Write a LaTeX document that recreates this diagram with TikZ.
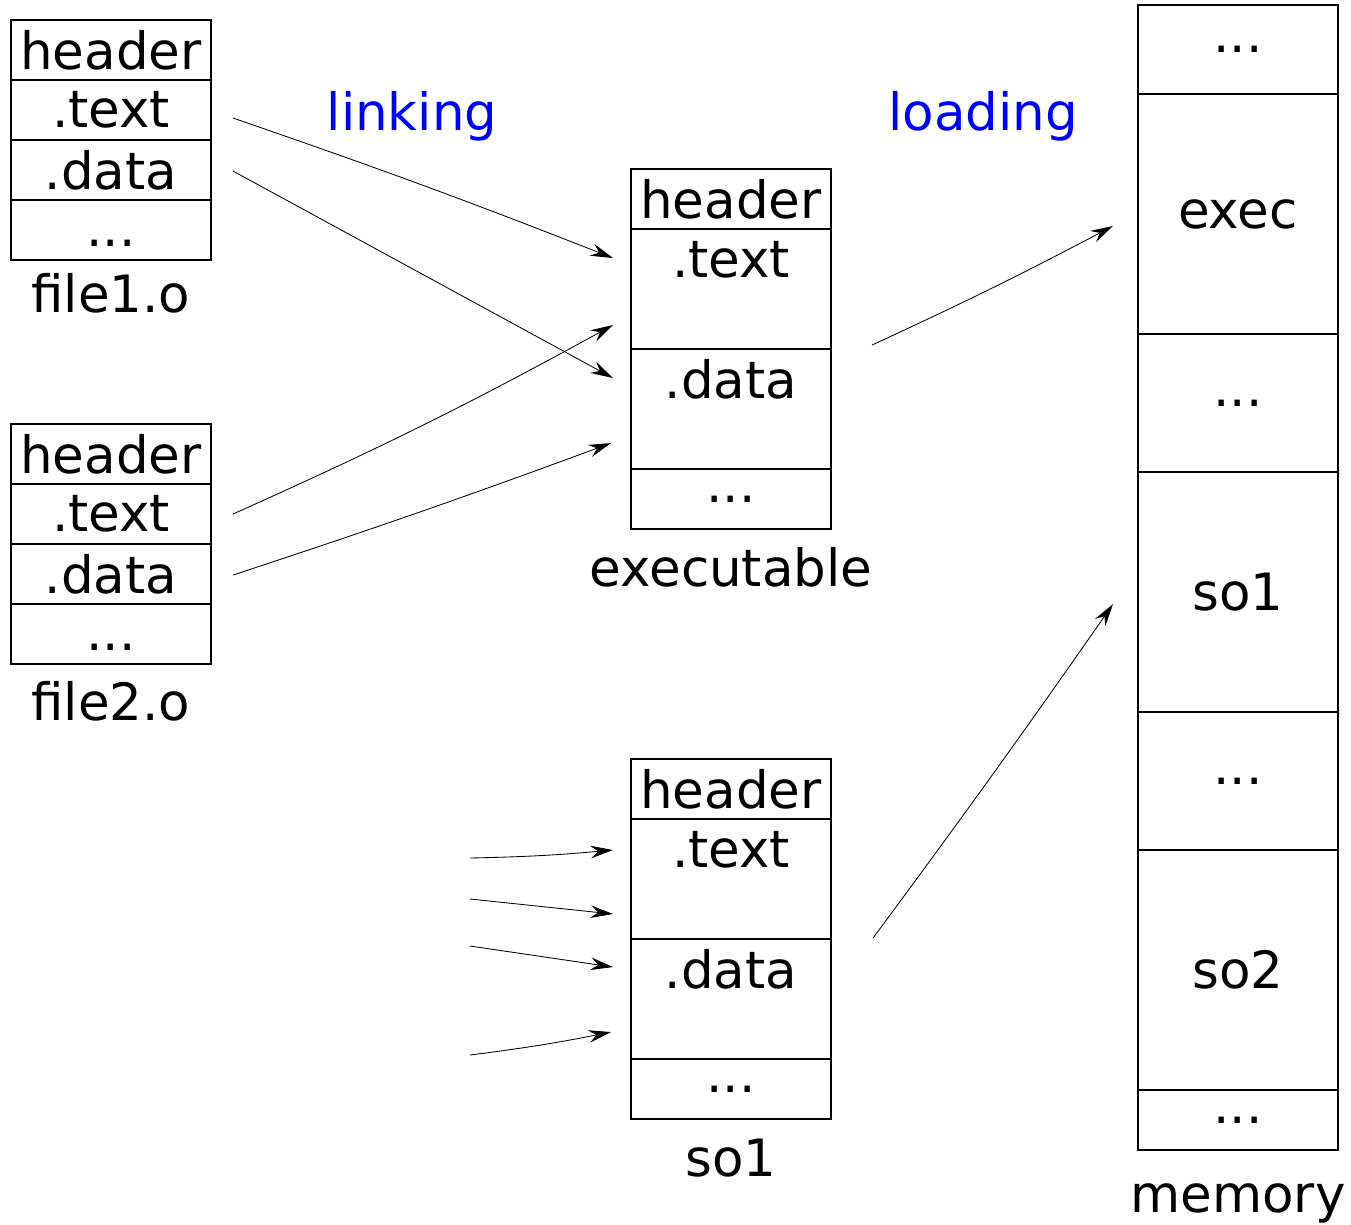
\documentclass[tikz,border=0pt]{standalone}
\usepackage{fontspec}
\setmainfont{DejaVu Sans}
\usetikzlibrary{arrows.meta,positioning}

\begin{document}
\begin{tikzpicture}[x=0.025cm, y=0.025cm,
	every node/.style={font=\fontsize{36.6}{44}\selectfont},
	cell/.style={draw, line width=1.2pt, minimum width=5cm, minimum height=1.5cm, inner sep=0pt, outer sep=0pt, anchor=north},
	tall/.style={cell, minimum height=3cm},
	lowdots/.style={text height=27.8pt, text depth=4pt},
	toptext/.style={label={[anchor=north, inner sep=0pt, minimum height=1.5cm]north:#1}},
	caption/.style={inner sep=0pt, text height=27.8pt, text depth=0pt},
	step label/.style={caption, text=blue},
	link/.style={-{Stealth[length=16pt, width=9pt, inset=5.5pt]}, line width=0.6pt}]
	\useasboundingbox (0,0) rectangle (1351,-1225);

	% object files
	\node[cell] (f1head) at (111,-20) {header};
	\node[cell, below=0pt of f1head] (f1text) {.text};
	\node[cell, below=0pt of f1text] (f1data) {.data};
	\node[cell, lowdots, below=0pt of f1data] (f1dots) {...};
	\node[caption, below=0.33cm of f1dots] (f1name) {file1.o};

	\node[cell] (f2head) at (111,-424) {header};
	\node[cell, below=0pt of f2head] (f2text) {.text};
	\node[cell, below=0pt of f2text] (f2data) {.data};
	\node[cell, lowdots, below=0pt of f2data] (f2dots) {...};
	\node[caption, below=0.43cm of f2dots] (f2name) {file2.o};

	% linked executable
	\node[cell] (exehead) at (731,-169) {header};
	\node[tall, toptext=.text, below=0pt of exehead] (exetext) {};
	\node[tall, toptext=.data, below=0pt of exetext] (exedata) {};
	\node[cell, below=0pt of exedata] (exedots) {...};
	\node[caption, below=0.45cm of exedots] (exename) {executable};

	% shared object
	\node[cell] (sohead) at (731,-759) {header};
	\node[tall, toptext=.text, below=0pt of sohead] (sotext) {};
	\node[tall, toptext=.data, below=0pt of sotext] (sodata) {};
	\node[cell, below=0pt of sodata] (sodots) {...};
	\node[caption, below=0.45cm of sodots] (soname) {so1};

	% address space
	\node[cell, minimum height=2.225cm] (memtop) at (1238,-5) {...};
	\node[cell, minimum height=6cm, below=0pt of memtop] (memexec) {exec};
	\node[cell, minimum height=3.45cm, below=0pt of memexec] (memgapa) {...};
	\node[cell, minimum height=6cm, below=0pt of memgapa] (memsoone) {so1};
	\node[cell, minimum height=3.45cm, below=0pt of memsoone] (memgapb) {...};
	\node[cell, minimum height=6cm, below=0pt of memgapb] (memsotwo) {so2};
	\node[cell, below=0pt of memsotwo] (membot) {...};
	\node[caption, below=0.58cm of membot] (memname) {memory};

	\node[step label] (linking) at (412,-111) {linking};
	\node[step label] (loading) at (983,-111) {loading};

	% linking
	\draw[link] ([shift={(22,-8)}]f1text.east) to[bend left=1.2] ([shift={(-18,-29)}]exetext.north west);
	\draw[link] ([shift={(22,-1)}]f1data.east) -- ([shift={(-18,-29)}]exedata.north west);
	\draw[link] ([shift={(22,0)}]f2text.east) to[bend right=2.3] ([shift={(-18,24)}]exetext.south west);
	\draw[link] ([shift={(22,-1)}]f2data.east) to[bend right=1] ([shift={(-20,26)}]exedata.south west);

	% loading
	\draw[link] ([shift={(41,4)}]exetext.south east) to[bend right=1.5] ([shift={(-25,-132)}]memexec.north west);
	\draw[link] ([shift={(42,1)}]sotext.south east) to[bend right=0.8] ([shift={(-25,-132)}]memsoone.north west);

	% references into so1
	\coordinate (refa) at (470,-858);
	\coordinate (refb) at (470,-899);
	\coordinate (refc) at (470,-946);
	\coordinate (refd) at (470,-1055);
	\draw[link] (refa) to[bend right=2] ([shift={(-18,-31)}]sotext.north west);
	\draw[link] (refb) -- ([shift={(-18,-95)}]sotext.north west);
	\draw[link] (refc) -- ([shift={(-18,-28)}]sodata.north west);
	\draw[link] (refd) to[bend right=2] ([shift={(-20,-93)}]sodata.north west);
\end{tikzpicture}
\end{document}
